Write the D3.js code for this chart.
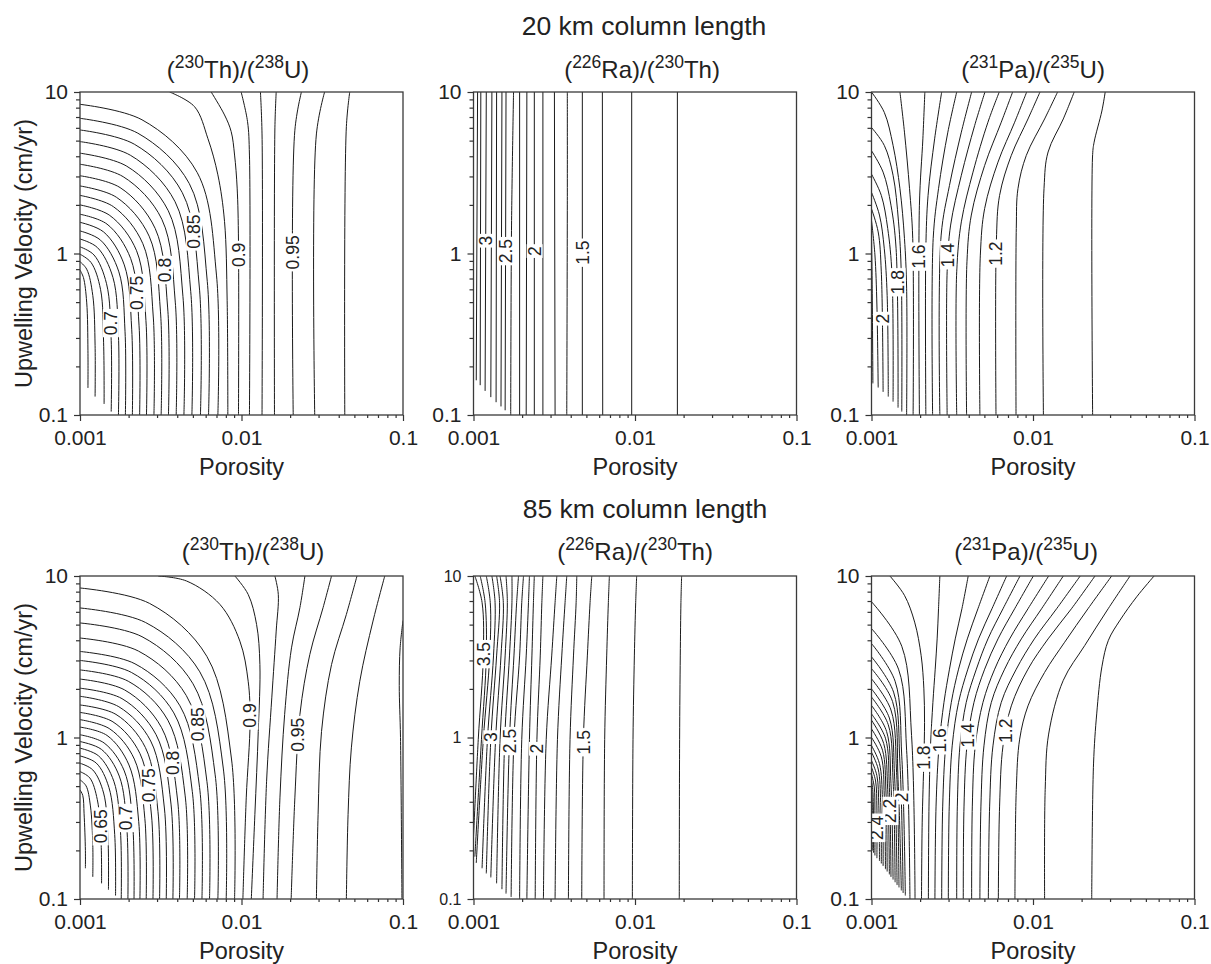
<!doctype html>
<html>
<head>
<meta charset="utf-8"/>
<title>Porosity / upwelling velocity contours</title>
<script src="https://cdn.jsdelivr.net/npm/d3@7"></script>
<style>
  body { margin: 0; background: #fff; }
  text { font-family: "Liberation Sans", Arial, sans-serif; fill: #222; }
</style>
</head>
<body>
<svg id="fig" width="1211" height="964"></svg>
<script>
// ---- axis values ----
var porosityTicks = [0.001, 0.01, 0.1];
var velocityTicks = [0.1, 1, 10];
var rowTitles = ["20 km column length", "85 km column length"];
// (mass, element, mass, element) for each column
var ratioTitles = [["230", "Th", "238", "U"], ["226", "Ra", "230", "Th"], ["231", "Pa", "235", "U"]];

// ---- contour lines, points are [porosity, velocity cm/yr] ----
// 20 km, (230Th)/(238U)
var th20 = [
  [[0.001,0.79],[0.00105,0.71],[0.0011,0.50],[0.00112,0.25],[0.00112,0.147]],
  [[0.001,0.89],[0.0011,0.80],[0.0012,0.55],[0.00124,0.27],[0.00124,0.13]],
  [[0.001,0.99],[0.00117,0.88],[0.00134,0.60],[0.0014,0.28],[0.00141,0.117]],
  [[0.001,1.10],[0.00122,0.98],[0.00146,0.65],[0.00156,0.29],[0.00156,0.105]],
  [[0.001,1.23],[0.00128,1.09],[0.0016,0.71],[0.00173,0.31],[0.00173,0.1]],
  [[0.001,1.38],[0.00134,1.21],[0.00174,0.77],[0.0019,0.33],[0.00191,0.1]],
  [[0.001,1.56],[0.0014,1.36],[0.00188,0.85],[0.00209,0.34],[0.00211,0.1]],
  [[0.001,1.75],[0.00147,1.52],[0.00206,0.93],[0.00232,0.36],[0.00234,0.1]],
  [[0.001,2.0],[0.00153,1.72],[0.00224,1.04],[0.00256,0.385],[0.00258,0.1]],
  [[0.001,2.29],[0.00161,1.95],[0.00245,1.15],[0.00284,0.41],[0.00287,0.1]],
  [[0.001,2.62],[0.00168,2.23],[0.00268,1.28],[0.00315,0.435],[0.00318,0.1]],
  [[0.001,3.03],[0.00177,2.56],[0.00292,1.43],[0.00349,0.46],[0.00353,0.1]],
  [[0.001,3.57],[0.00185,2.99],[0.00321,1.63],[0.00389,0.50],[0.00394,0.1]],
  [[0.001,4.18],[0.00195,3.47],[0.00352,1.84],[0.00434,0.54],[0.0044,0.1]],
  [[0.001,4.93],[0.00205,4.06],[0.00388,2.09],[0.00485,0.58],[0.00493,0.1]],
  [[0.001,5.82],[0.00217,4.75],[0.0043,2.38],[0.00548,0.62],[0.00557,0.1]],
  [[0.001,6.87],[0.00228,5.56],[0.00475,2.71],[0.00614,0.67],[0.00625,0.1]],
  [[0.001,8.39],[0.00242,6.73],[0.00532,3.17],[0.007,0.735],[0.00714,0.1]],
  [[0.00359,10],[0.00512,8.11],[0.00619,5.16],[0.00714,3.07],[0.00785,1.58],[0.00815,0.51],[0.00823,0.1]],
  [[0.00649,10],[0.00785,7.21],[0.00863,5.69],[0.00906,4.07],[0.0094,2.54],[0.00958,1.19],[0.00958,0.1]],
  [[0.00995,10],[0.0109,6.55],[0.0112,4.07],[0.0112,0.1]],
  [[0.0131,10],[0.0134,5.5],[0.0134,0.1]],
  [[0.0164,10],[0.0161,6],[0.016,0.1]],
  [[0.0235,10],[0.0214,5.8],[0.0209,0.1]],
  [[0.0327,10],[0.0291,5.5],[0.0284,0.1]],
  [[0.0468,10],[0.0446,6.1],[0.0436,0.1]]
];
// label text, line index, velocity where it sits
var th20Labels = [["0.7",3,0.37],["0.75",7,0.57],["0.8",11,0.79],["0.85",15,1.36],["0.9",19,0.98],["0.95",23,1.02]];

// 20 km, (226Ra)/(230Th)
var ra20 = [
  [[0.00106,10],[0.00104,0.164]],
  [[0.00111,10],[0.0011,0.153]],
  [[0.0012,10],[0.00118,0.141]],
  [[0.0013,10],[0.00128,0.129]],
  [[0.00139,10],[0.00138,0.12]],
  [[0.0015,10],[0.00148,0.113]],
  [[0.00159,10],[0.00157,0.107]],
  [[0.00177,10],[0.00172,1.5],[0.0017,0.1]],
  [[0.00193,10],[0.00193,0.1]],
  [[0.00214,10],[0.00212,0.1]],
  [[0.00238,10],[0.00238,0.1]],
  [[0.00269,10],[0.00269,0.1]],
  [[0.00317,10],[0.0032,0.1]],
  [[0.00381,10],[0.00381,2.0],[0.00378,0.1]],
  [[0.00472,10],[0.00472,0.1]],
  [[0.00628,10],[0.00631,0.1]],
  [[0.00954,10],[0.00954,0.1]],
  [[0.0183,10],[0.0183,0.1]]
];
var ra20Labels = [["3",2,1.2],["2.5",6,1.04],["2",10,1.03],["1.5",14,1.01]];

// 20 km, (231Pa)/(235U)
var pa20 = [
  [[0.001,1.32],[0.00101,0.61],[0.00102,0.157]],
  [[0.001,1.60],[0.00105,0.98],[0.00108,0.48],[0.0011,0.148]],
  [[0.001,1.89],[0.0011,1.36],[0.00115,0.77],[0.00118,0.139]],
  [[0.001,2.39],[0.00112,1.73],[0.0012,1.07],[0.00125,0.55],[0.00127,0.13]],
  [[0.001,3.10],[0.00115,2.29],[0.00126,1.43],[0.00134,0.735],[0.00136,0.121]],
  [[0.001,4.33],[0.00118,3.19],[0.00132,1.99],[0.00142,1.07],[0.00146,0.111]],
  [[0.001,6.03],[0.0012,4.67],[0.00136,3.05],[0.00147,1.57],[0.00153,0.735],[0.00154,0.105]],
  [[0.001,10],[0.0012,7.48],[0.00136,4.67],[0.0015,2.52],[0.0016,1.24],[0.00165,0.61],[0.00165,0.1]],
  [[0.0015,10],[0.0016,5.64],[0.00172,2.52],[0.0018,1.24],[0.00181,0.1]],
  [[0.00214,10],[0.00208,5.13],[0.00198,1.99],[0.00198,0.1]],
  [[0.00272,10],[0.00246,5.13],[0.00224,2.29],[0.00217,1.07],[0.00217,0.1]],
  [[0.00337,10],[0.00297,5.64],[0.0026,2.52],[0.00241,1.24],[0.00239,0.1]],
  [[0.00417,10],[0.0036,5.64],[0.00304,2.64],[0.0027,1.30],[0.00265,0.1]],
  [[0.00504,10],[0.00435,6.19],[0.0036,3.05],[0.00309,1.50],[0.00294,0.771],[0.00294,0.1]],
  [[0.00618,10],[0.00526,6.50],[0.00425,3.19],[0.0036,1.57],[0.00337,0.771],[0.00337,0.1]],
  [[0.00748,10],[0.00636,6.50],[0.00502,3.51],[0.00415,1.73],[0.0039,0.889],[0.00388,0.1]],
  [[0.00914,10],[0.0077,6.50],[0.00607,3.68],[0.00502,1.90],[0.00472,0.977],[0.00469,0.1]],
  [[0.01105,10],[0.00931,6.81],[0.00734,4.05],[0.00621,2.29],[0.00593,1.18],[0.0059,0.1]],
  [[0.0142,10],[0.0118,6.81],[0.00909,4.05],[0.00807,2.52],[0.00788,1.43],[0.00785,0.1]],
  [[0.018,10],[0.0154,6.81],[0.0124,4.25],[0.0117,2.52],[0.0116,0.1]],
  [[0.028,10],[0.0267,7.63],[0.0239,4.89],[0.0234,4.1],[0.0234,0.1]]
];
var pa20Labels = [["2",2,0.395],["1.8",5,0.665],["1.6",9,0.96],["1.4",13,0.97],["1.2",17,1.0]];

// 85 km, (230Th)/(238U)
var th85 = [
  [[0.001,0.474],[0.00104,0.438],[0.00106,0.337],[0.00108,0.2],[0.00108,0.155]],
  [[0.001,0.547],[0.00109,0.502],[0.00116,0.377],[0.0012,0.215],[0.0012,0.137]],
  [[0.001,0.615],[0.00115,0.562],[0.00128,0.412],[0.00135,0.226],[0.00136,0.125]],
  [[0.001,0.693],[0.0012,0.63],[0.0014,0.453],[0.00149,0.239],[0.0015,0.114]],
  [[0.001,0.769],[0.00126,0.695],[0.00151,0.491],[0.00164,0.251],[0.00166,0.105]],
  [[0.001,0.859],[0.0013,0.771],[0.00162,0.536],[0.00178,0.263],[0.0018,0.1]],
  [[0.001,0.944],[0.00136,0.843],[0.00175,0.577],[0.00195,0.275],[0.00198,0.1]],
  [[0.001,1.04],[0.00141,0.925],[0.00188,0.621],[0.00212,0.287],[0.00216,0.1]],
  [[0.001,1.16],[0.00147,1.03],[0.00201,0.676],[0.00231,0.301],[0.00235,0.1]],
  [[0.001,1.29],[0.00153,1.13],[0.00217,0.735],[0.00252,0.316],[0.00257,0.1]],
  [[0.001,1.43],[0.0016,1.25],[0.00235,0.796],[0.00277,0.331],[0.00283,0.1]],
  [[0.001,1.59],[0.00167,1.39],[0.00254,0.867],[0.00304,0.348],[0.00311,0.1]],
  [[0.001,1.80],[0.00174,1.55],[0.00274,0.951],[0.00333,0.366],[0.00342,0.1]],
  [[0.001,2.02],[0.00182,1.74],[0.00296,1.04],[0.00366,0.387],[0.00376,0.1]],
  [[0.001,2.30],[0.00189,1.97],[0.0032,1.15],[0.00402,0.41],[0.00413,0.1]],
  [[0.001,2.62],[0.00199,2.23],[0.0035,1.28],[0.00448,0.435],[0.00461,0.1]],
  [[0.001,3.0],[0.00208,2.53],[0.00381,1.42],[0.00496,0.462],[0.00512,0.1]],
  [[0.001,3.41],[0.00219,2.86],[0.00416,1.57],[0.0055,0.49],[0.00569,0.1]],
  [[0.001,4.13],[0.0023,3.43],[0.00455,1.82],[0.00611,0.533],[0.00634,0.1]],
  [[0.001,5.12],[0.00242,4.21],[0.00501,2.15],[0.00687,0.587],[0.00714,0.1]],
  [[0.001,6.34],[0.00255,5.15],[0.00552,2.55],[0.00771,0.647],[0.00804,0.1]],
  [[0.001,8.43],[0.0027,6.76],[0.0061,3.18],[0.00867,0.736],[0.00906,0.1]],
  [[0.00305,10],[0.00457,9.31],[0.00735,6.67],[0.00977,3.95],[0.011,2.23],[0.0113,1.26],[0.0107,0.423],[0.0102,0.1]],
  [[0.0091,10],[0.011,7.69],[0.0124,5.01],[0.013,2.83],[0.0127,1.09],[0.0121,0.333],[0.0115,0.1]],
  [[0.0161,10],[0.0169,7.69],[0.0164,4.56],[0.0154,1.76],[0.0143,0.536],[0.0136,0.1]],
  [[0.0247,10],[0.023,6.37],[0.0204,3.59],[0.0185,1.39],[0.0173,0.423],[0.0166,0.1]],
  [[0.0361,10],[0.032,6.37],[0.0265,3.27],[0.023,1.39],[0.0214,0.423],[0.0203,0.1]],
  [[0.0519,10],[0.0446,5.78],[0.0361,2.83],[0.0313,1.09],[0.0298,0.333],[0.0291,0.1]],
  [[0.0771,10],[0.0652,5.26],[0.054,2.23],[0.0479,0.863],[0.0457,0.333],[0.0446,0.1]],
  [[0.1,5.3],[0.096,3.6],[0.0948,2.1],[0.0965,1.0],[0.0985,0.1]]
];
var th85Labels = [["0.65",2,0.282],["0.7",6,0.318],["0.75",10,0.507],["0.8",14,0.697],["0.85",18,1.2],["0.9",22,1.36],["0.95",26,1.04]];

// 85 km, (226Ra)/(230Th)
var ra85 = [
  [[0.00102,10],[0.00113,6.86],[0.00115,3.2],[0.00107,0.97],[0.001,0.244]],
  [[0.0011,10],[0.00118,6.86],[0.0012,3.2],[0.00112,0.97],[0.00102,0.183]],
  [[0.0012,10],[0.00127,6.86],[0.00126,3.2],[0.00115,0.97],[0.00104,0.167]],
  [[0.0013,10],[0.00136,6.86],[0.00133,3.2],[0.00122,0.97],[0.00113,0.155]],
  [[0.00139,10],[0.00145,6.86],[0.00139,3.2],[0.00128,0.97],[0.0012,0.144]],
  [[0.00146,10],[0.00153,6.86],[0.00148,3.2],[0.00137,0.97],[0.00128,0.136]],
  [[0.00159,10],[0.00162,6.86],[0.00157,3.2],[0.00146,0.97],[0.00139,0.125]],
  [[0.00173,10],[0.00173,6.86],[0.00167,3.2],[0.00156,0.97],[0.0015,0.115]],
  [[0.0019,10],[0.00185,6.86],[0.00178,3.2],[0.00167,0.97],[0.00159,0.108]],
  [[0.00204,10],[0.00199,6.86],[0.00193,3.2],[0.00178,0.97],[0.00171,0.103]],
  [[0.00222,10],[0.00219,6.86],[0.00212,3.2],[0.00199,0.97],[0.00193,0.1]],
  [[0.00238,10],[0.00235,6.86],[0.0023,3.2],[0.00222,0.97],[0.00214,0.1]],
  [[0.00269,10],[0.00265,6.86],[0.00259,3.2],[0.00247,0.97],[0.00241,0.1]],
  [[0.00328,10],[0.0032,6.86],[0.00305,3.2],[0.00282,0.97],[0.00271,0.1]],
  [[0.00378,10],[0.00369,6.86],[0.00352,3.2],[0.00331,0.97],[0.0032,0.1]],
  [[0.00436,10],[0.00432,6.86],[0.00416,3.2],[0.00396,0.97],[0.00387,0.1]],
  [[0.0054,10],[0.00527,6.86],[0.00507,3.2],[0.00479,0.97],[0.00468,0.1]],
  [[0.00694,10],[0.00684,6.86],[0.00668,3.2],[0.00649,0.97],[0.00643,0.1]],
  [[0.01024,10],[0.0101,6.86],[0.00991,3.2],[0.00972,0.97],[0.00963,0.1]],
  [[0.01944,10],[0.01925,6.86],[0.01907,3.2],[0.01889,0.97],[0.0188,0.1]]
];
var ra85Labels = [["3.5",0,3.27],["3",4,1.0],["2.5",8,0.955],["2",12,0.847],["1.5",16,0.93]];

// 85 km, (231Pa)/(235U)
var pa85 = [
  [[0.0562,10],[0.0439,7.44],[0.0346,5.33],[0.0293,4.0],[0.0267,2.74],[0.0248,1.40],[0.0237,0.686],[0.0231,0.1]],
  [[0.0399,10],[0.0292,6.27],[0.0209,3.71],[0.0154,2.26],[0.0125,1.05],[0.0119,0.477],[0.0118,0.1]],
  [[0.0307,10],[0.0219,6.27],[0.0157,3.89],[0.0118,2.53],[0.00931,1.57],[0.00827,0.977],[0.00788,0.477],[0.00773,0.1]],
  [[0.0242,10],[0.0173,6.27],[0.0124,4.08],[0.00931,2.65],[0.00734,1.57],[0.00652,0.888],[0.00621,0.376],[0.0061,0.1]],
  [[0.0196,10],[0.014,6.27],[0.0102,4.08],[0.00788,2.65],[0.00636,1.65],[0.00565,0.888],[0.00539,0.376],[0.00529,0.1]],
  [[0.0154,10],[0.0113,6.27],[0.00847,4.08],[0.00667,2.65],[0.00552,1.65],[0.00497,0.888],[0.00476,0.376],[0.00469,0.1]],
  [[0.0125,10],[0.00931,6.27],[0.00717,4.08],[0.00579,2.65],[0.0049,1.65],[0.00439,0.888],[0.00421,0.376],[0.00417,0.1]],
  [[0.01005,10],[0.0077,6.27],[0.00607,4.08],[0.00502,2.65],[0.00431,1.65],[0.0039,0.888],[0.00374,0.376],[0.0037,0.1]],
  [[0.00831,10],[0.00652,6.27],[0.00526,4.08],[0.00446,2.65],[0.00386,1.65],[0.00353,0.888],[0.0034,0.376],[0.00337,0.1]],
  [[0.00687,10],[0.00557,6.27],[0.0046,4.08],[0.00395,2.65],[0.00346,1.65],[0.00316,0.888],[0.00303,0.376],[0.00299,0.1]],
  [[0.00541,10],[0.00456,6.27],[0.00392,4.08],[0.00346,2.65],[0.00312,1.65],[0.00288,0.888],[0.00276,0.376],[0.00272,0.1]],
  [[0.00397,10],[0.00363,6.27],[0.0033,4.08],[0.00304,2.65],[0.00281,1.65],[0.00262,0.888],[0.00251,0.376],[0.00247,0.1]],
  [[0.00265,10],[0.0026,6.27],[0.00255,4.08],[0.00248,2.65],[0.0024,1.65],[0.00232,0.888],[0.00227,0.376],[0.00225,0.1]],
  [[0.0013,10],[0.0016,7.59],[0.00185,5.18],[0.00203,3.21],[0.00211,2.0],[0.00213,1.24],[0.00211,0.733],[0.00206,0.296],[0.00204,0.1]],
  [[0.001,6.93],[0.00154,3.67],[0.00177,1.03],[0.00186,0.1]],
  [[0.001,4.73],[0.00147,2.65],[0.00165,0.834],[0.00173,0.1]],
  [[0.001,3.82],[0.0014,2.23],[0.00154,0.759],[0.00162,0.105]],
  [[0.001,3.16],[0.00137,1.91],[0.0015,0.693],[0.00157,0.109]],
  [[0.001,2.67],[0.00135,1.67],[0.00146,0.548],[0.00153,0.113]],
  [[0.001,2.31],[0.00132,1.48],[0.00143,0.606],[0.00148,0.118]],
  [[0.001,2.0],[0.00129,1.32],[0.00139,0.57],[0.00144,0.122]],
  [[0.001,1.78],[0.00127,1.2],[0.00136,0.543],[0.0014,0.127]],
  [[0.001,1.58],[0.00124,1.09],[0.00132,0.518],[0.00136,0.132]],
  [[0.001,1.4],[0.00122,0.99],[0.00129,0.491],[0.00132,0.137]],
  [[0.001,1.28],[0.00119,0.918],[0.00126,0.475],[0.00129,0.142]],
  [[0.001,1.13],[0.00117,0.834],[0.00123,0.453],[0.00125,0.148]],
  [[0.001,1.0],[0.00115,0.759],[0.0012,0.434],[0.00122,0.153]],
  [[0.001,0.891],[0.00112,0.69],[0.00117,0.412],[0.00118,0.16]],
  [[0.001,0.811],[0.0011,0.638],[0.00114,0.396],[0.00115,0.166]],
  [[0.001,0.719],[0.00108,0.581],[0.00111,0.378],[0.00112,0.172]],
  [[0.001,0.654],[0.00106,0.538],[0.00108,0.366],[0.00108,0.179]],
  [[0.001,0.594],[0.00104,0.494],[0.00105,0.352],[0.00105,0.186]],
  [[0.001,0.541],[0.00102,0.464],[0.00103,0.193]],
  [[0.001,0.491],[0.00101,0.4],[0.00101,0.199]]
];
var pa85Labels = [["1.2",3,1.10],["1.4",7,1.03],["1.6",11,0.958],["1.8",13,0.748],["2",17,0.426],["2.2",23,0.352],["2.4",30,0.275]];

// ---- layout ----
var svg = d3.select("#fig");
var colX = [80, 473.5, 871.5];
var rowY = [92, 576];
var W = 323, H = 323;
var titleX = [[238, 642, 1033], [253, 635, 1026]];
var titleY = [78, 560];

svg.append("text").attr("x", 644).attr("y", 35).attr("text-anchor", "middle")
   .attr("font-size", 26.5).text(rowTitles[0]);
svg.append("text").attr("x", 645).attr("y", 518).attr("text-anchor", "middle")
   .attr("font-size", 26.5).text(rowTitles[1]);

function ratioTitle(x, y, t) {
  var tx = svg.append("text").attr("x", x).attr("y", y).attr("text-anchor", "middle").attr("font-size", 24);
  tx.append("tspan").text("(");
  tx.append("tspan").attr("font-size", 17.5).attr("dy", -10).text(t[0]);
  tx.append("tspan").attr("dy", 10).text(t[1] + ")/(");
  tx.append("tspan").attr("font-size", 17.5).attr("dy", -10).text(t[2]);
  tx.append("tspan").attr("dy", 10).text(t[3] + ")");
}

function isMajor(d) {
  var l = Math.log10(d);
  return Math.abs(l - Math.round(l)) < 1e-6;
}

function panel(row, col, lines, labels, yTickSize) {
  var g = svg.append("g").attr("transform", "translate(" + colX[col] + "," + rowY[row] + ")");
  var x = d3.scaleLog().domain([0.001, 0.1]).range([0, W]);
  var y = d3.scaleLog().domain([0.1, 10]).range([H, 0]);

  var id = "clip" + row + col;
  g.append("clipPath").attr("id", id).append("rect").attr("width", W).attr("height", H);
  var cg = g.append("g").attr("clip-path", "url(#" + id + ")");

  var line = d3.line()
      .x(function(d) { return x(d[0]); })
      .y(function(d) { return y(d[1]); })
      .curve(d3.curveCatmullRom.alpha(0.5));

  var paths = cg.selectAll("path.c").data(lines).join("path")
      .attr("class", "c")
      .attr("d", line)
      .attr("fill", "none")
      .attr("stroke", "#1a1a1a")
      .attr("stroke-width", 1);

  // inline contour labels
  labels.forEach(function(l) {
    var node = paths.nodes()[l[1]];
    var ty = y(l[2]);
    var len = node.getTotalLength(), best = null;
    for (var s = 0; s <= 400; s++) {
      var p = node.getPointAtLength(len * s / 400);
      if (!best || Math.abs(p.y - ty) < Math.abs(best.y - ty)) best = p;
    }
    var lg = cg.append("g").attr("transform", "translate(" + best.x + "," + best.y + ") rotate(-90)");
    var t = lg.append("text").attr("text-anchor", "middle").attr("dy", "0.36em")
        .attr("font-size", 17.5).text(l[0]);
    var bb = t.node().getBBox();
    lg.insert("rect", "text").attr("x", bb.x - 2).attr("y", bb.y + 2)
      .attr("width", bb.width + 4).attr("height", bb.height - 4).attr("fill", "#fff");
  });

  // frame
  g.append("rect").attr("width", W).attr("height", H)
   .attr("fill", "none").attr("stroke", "#3a3a3a").attr("stroke-width", 1.3);

  // x axis
  var gx = g.append("g").attr("transform", "translate(0," + H + ")")
      .call(d3.axisBottom(x).tickValues(porosityTicks).tickFormat(function(d) { return String(d); })
            .tickSize(6).tickPadding(9));
  var minorX = x.ticks().filter(function(d) { return !isMajor(d); });
  var gxm = g.append("g").attr("transform", "translate(0," + H + ")")
      .call(d3.axisBottom(x).tickValues(minorX).tickFormat("").tickSize(3));

  // y axis
  var gy = g.append("g")
      .call(d3.axisLeft(y).tickValues(velocityTicks).tickFormat(function(d) { return String(d); })
            .tickSize(6).tickPadding(6));
  var minorY = y.ticks().filter(function(d) { return !isMajor(d); });
  var gym = g.append("g").call(d3.axisLeft(y).tickValues(minorY).tickFormat("").tickSize(4));

  [gx, gxm, gy, gym].forEach(function(a) {
    a.select(".domain").remove();
    a.attr("font-family", null).attr("color", "#333");
    a.selectAll("line").attr("stroke-width", 1.2);
  });
  gx.selectAll("text").attr("font-size", 21).style("fill", "#222");
  gy.selectAll("text").attr("font-size", yTickSize).style("fill", "#222");

  // axis titles
  g.append("text").attr("x", W / 2).attr("y", H + 60).attr("text-anchor", "middle")
   .attr("font-size", 23.5).text("Porosity");
  if (col === 0) {
    g.append("text").attr("transform", "translate(" + (32 - colX[0]) + "," + (H / 2) + ") rotate(-90)")
     .attr("text-anchor", "middle").attr("font-size", 23.5).text("Upwelling Velocity (cm/yr)");
  }

  ratioTitle(titleX[row][col], titleY[row], ratioTitles[col]);
}

panel(0, 0, th20, th20Labels, 21);
panel(0, 1, ra20, ra20Labels, 21);
panel(0, 2, pa20, pa20Labels, 21);
panel(1, 0, th85, th85Labels, 21);
panel(1, 1, ra85, ra85Labels, 16);
panel(1, 2, pa85, pa85Labels, 21);
</script>
</body>
</html>
